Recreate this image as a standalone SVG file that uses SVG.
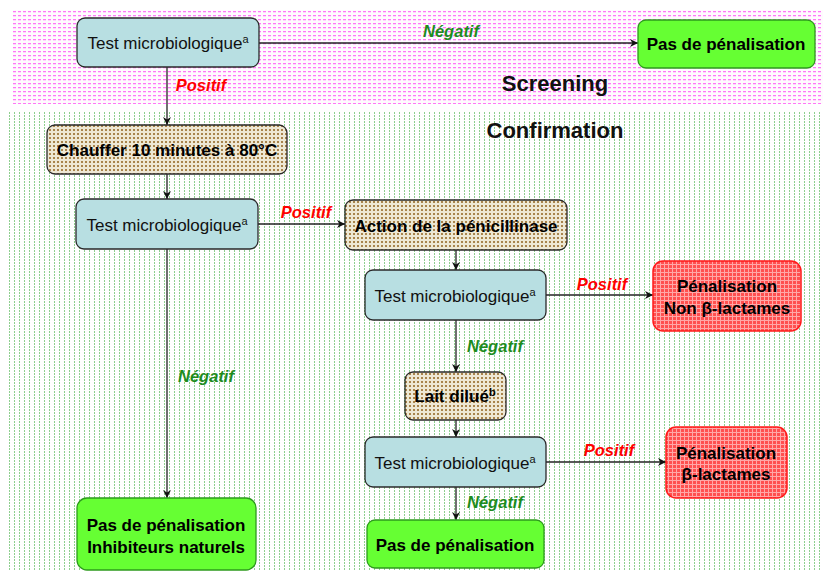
<svg xmlns="http://www.w3.org/2000/svg" width="823" height="571" viewBox="0 0 823 571">
  <defs>
    <!-- pink dotted texture of the screening band -->
    <pattern id="pinkDots" x="13" y="10" width="5" height="4" patternUnits="userSpaceOnUse">
      <rect width="5" height="4" fill="#fffafe"/>
      <rect x="0" y="1" width="3" height="1" fill="#ff78f7"/>
      <rect x="0" y="2" width="3" height="1" fill="#ffd6fc"/>
    </pattern>
    <!-- green vertical dashed hatching of the confirmation area -->
    <pattern id="greenLines" x="14" y="112" width="5" height="3" patternUnits="userSpaceOnUse">
      <rect x="0" y="0" width="1" height="2" fill="#8fcf8f"/>
    </pattern>
    <!-- dotted beige texture for process steps -->
    <pattern id="stepDots" x="0" y="0" width="4" height="4" patternUnits="userSpaceOnUse">
      <rect width="4" height="4" fill="#eee8d4"/>
      <rect x="1" y="1" width="2" height="2" fill="#a8844c"/>
    </pattern>
    <!-- red grid texture for penalty nodes -->
    <pattern id="redGrid" x="0" y="0" width="4" height="4" patternUnits="userSpaceOnUse">
      <rect width="4" height="4" fill="#ff5050"/>
      <rect x="0" y="0" width="4" height="1" fill="#ffa8a8"/>
      <rect x="0" y="0" width="1" height="4" fill="#ffa8a8"/>
    </pattern>
    <marker id="arrow" viewBox="0 0 10 10" refX="10" refY="5" markerWidth="8" markerHeight="8" markerUnits="userSpaceOnUse" orient="auto">
      <path d="M0,0 L10,5 L0,10 L3,5 z" fill="#111"/>
    </marker>
    <style>
      .test { fill: #b8dfe2; stroke: #2a2a2a; stroke-width: 1.3; }
      .step { fill: url(#stepDots); stroke: #2a2a2a; stroke-width: 1.3; }
      .ok { fill: #66ff33; stroke: #2e9a1e; stroke-width: 1.3; }
      .pen { fill: url(#redGrid); stroke: #ff1a1a; stroke-width: 1.5; }
      .lbl { font-family: "Liberation Sans", Arial, sans-serif; font-size: 17px; fill: #111; text-anchor: middle; }
      .bold { font-family: "Liberation Sans", Arial, sans-serif; font-size: 17px; font-weight: bold; fill: #000; text-anchor: middle; }
      .sup { font-size: 11px; }
      .pos { font-family: "Liberation Sans", Arial, sans-serif; font-size: 16.5px; font-weight: bold; font-style: italic; fill: #ff0000; text-anchor: middle; }
      .neg { font-family: "Liberation Sans", Arial, sans-serif; font-size: 16.5px; font-weight: bold; font-style: italic; fill: #1e8c1e; text-anchor: middle; }
      .title { font-family: "Liberation Sans", Arial, sans-serif; font-size: 22px; font-weight: bold; fill: #111; text-anchor: middle; }
      .conn line { stroke: #222; stroke-width: 1.3; marker-end: url(#arrow); }
    </style>
  </defs>

  <rect width="823" height="571" fill="#ffffff"/>
  <!-- background areas -->
  <rect x="13" y="10" width="810" height="94" fill="url(#pinkDots)"/>
  <rect x="9" y="112" width="814" height="459" fill="url(#greenLines)"/>
  <text class="title" x="555" y="91">Screening</text>
  <text class="title" x="555" y="138">Confirmation</text>

  <!-- connectors -->
  <g id="connectors" class="conn">
    <line x1="259" y1="43" x2="638" y2="43"/>
    <line x1="167" y1="67" x2="167" y2="125"/>
    <line x1="167" y1="174" x2="167" y2="199"/>
    <line x1="258" y1="224" x2="345" y2="224"/>
    <line x1="167" y1="249" x2="167" y2="498"/>
    <line x1="456" y1="250" x2="456" y2="270"/>
    <line x1="546" y1="295" x2="653" y2="295"/>
    <line x1="456" y1="320" x2="456" y2="372"/>
    <line x1="456" y1="420" x2="456" y2="437"/>
    <line x1="546" y1="462" x2="666" y2="462"/>
    <line x1="456" y1="487" x2="456" y2="520"/>
  </g>
  <g id="edge-labels">
    <text class="neg" x="451" y="37">Négatif</text>
    <text class="pos" x="201" y="91">Positif</text>
    <text class="pos" x="306" y="218">Positif</text>
    <text class="neg" x="206" y="382">Négatif</text>
    <text class="pos" x="602" y="290">Positif</text>
    <text class="neg" x="495" y="352">Négatif</text>
    <text class="pos" x="609" y="456">Positif</text>
    <text class="neg" x="495" y="508">Négatif</text>
  </g>

  <g id="test1">
    <rect class="test" x="77" y="18" width="182" height="49" rx="8"/>
    <text class="lbl" x="168" y="49">Test microbiologique<tspan class="sup" dy="-6">a</tspan></text>
  </g>
  <g id="pas-penal-1">
    <rect class="ok" x="638" y="20" width="177" height="48" rx="8"/>
    <text class="bold" x="726" y="50">Pas de pénalisation</text>
  </g>
  <g id="chauffer">
    <rect class="step" x="47" y="125" width="240" height="49" rx="8"/>
    <text class="bold" x="167" y="156">Chauffer 10 minutes à 80°C</text>
  </g>
  <g id="test2">
    <rect class="test" x="76" y="199" width="182" height="50" rx="8"/>
    <text class="lbl" x="167" y="231">Test microbiologique<tspan class="sup" dy="-6">a</tspan></text>
  </g>
  <g id="penicillinase">
    <rect class="step" x="345" y="200" width="222" height="50" rx="8"/>
    <text class="bold" x="456" y="232">Action de la pénicillinase</text>
  </g>
  <g id="test3">
    <rect class="test" x="365" y="270" width="181" height="50" rx="8"/>
    <text class="lbl" x="455" y="302">Test microbiologique<tspan class="sup" dy="-6">a</tspan></text>
  </g>
  <g id="penal-non-beta">
    <rect class="pen" x="653" y="261" width="148" height="70" rx="10"/>
    <text class="bold" x="727" y="292">Pénalisation</text>
    <text class="bold" x="727" y="314">Non β-lactames</text>
  </g>
  <g id="lait-dilue">
    <rect class="step" x="405" y="372" width="101" height="48" rx="8"/>
    <text class="bold" x="455" y="402">Lait dilué<tspan class="sup" dy="-6">b</tspan></text>
  </g>
  <g id="test4">
    <rect class="test" x="365" y="437" width="181" height="50" rx="8"/>
    <text class="lbl" x="455" y="469">Test microbiologique<tspan class="sup" dy="-6">a</tspan></text>
  </g>
  <g id="penal-beta">
    <rect class="pen" x="666" y="427" width="121" height="71" rx="10"/>
    <text class="bold" x="726" y="459">Pénalisation</text>
    <text class="bold" x="726" y="480">β-lactames</text>
  </g>
  <g id="pas-penal-2">
    <rect class="ok" x="367" y="520" width="177" height="48" rx="8"/>
    <text class="bold" x="455" y="551">Pas de pénalisation</text>
  </g>
  <g id="pas-penal-inhib">
    <rect class="ok" x="77" y="498" width="179" height="72" rx="10"/>
    <text class="bold" x="166" y="531">Pas de pénalisation</text>
    <text class="bold" x="166" y="553">Inhibiteurs naturels</text>
  </g>
</svg>
